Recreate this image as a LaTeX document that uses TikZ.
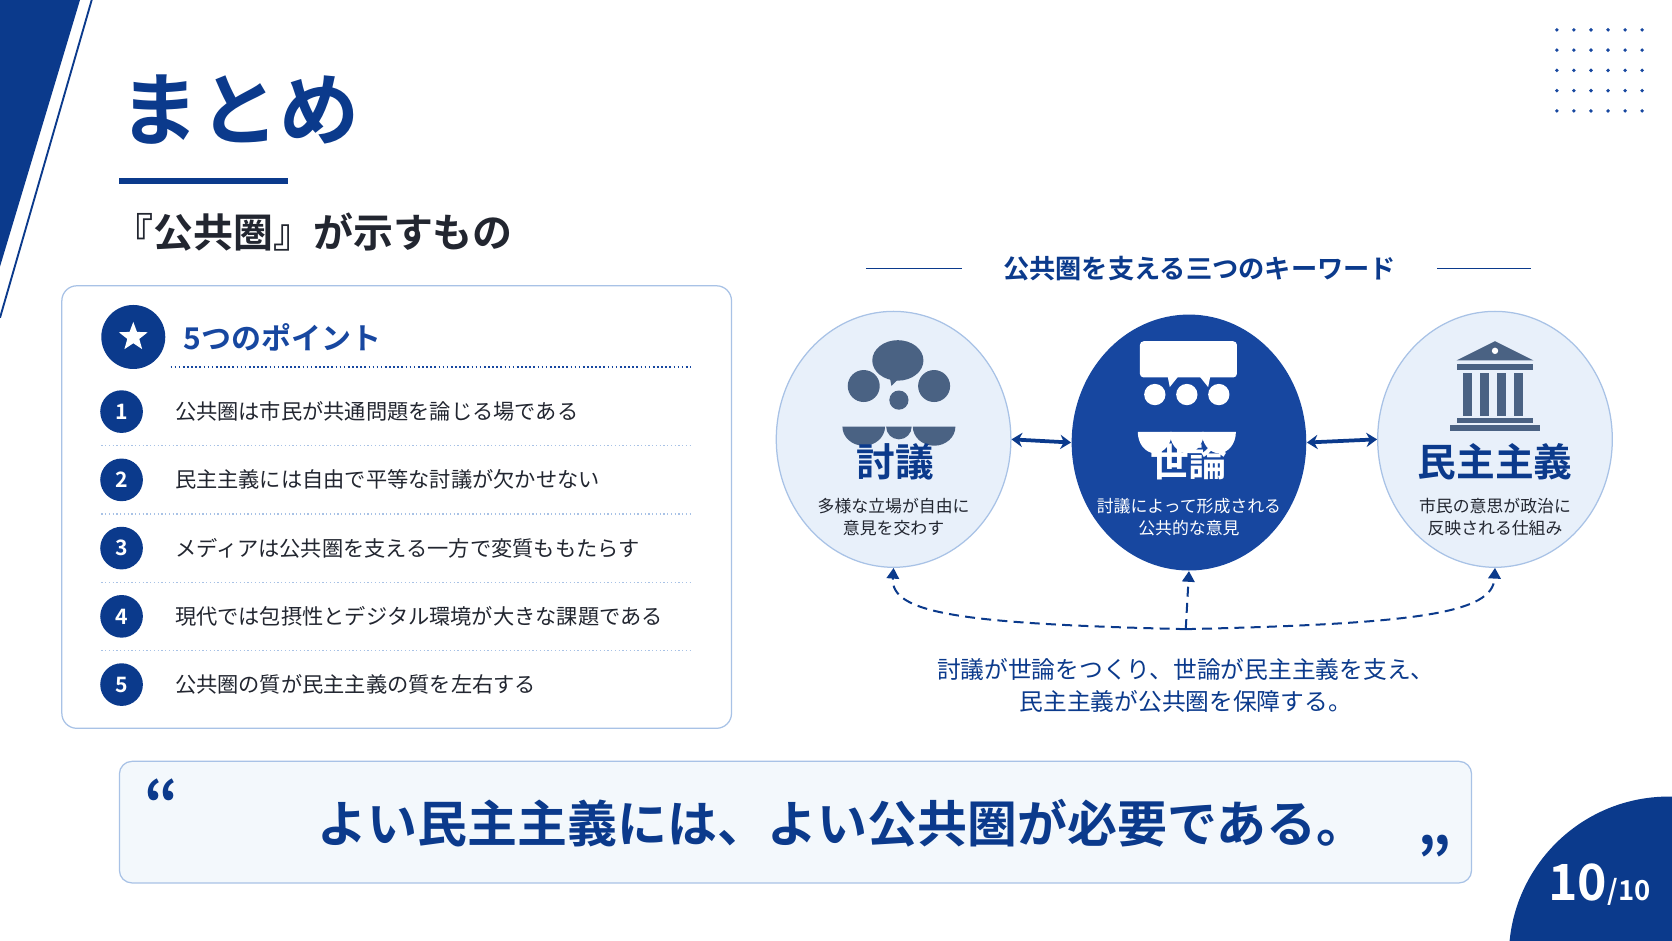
\documentclass[tikz,border=0pt]{standalone}
\usepackage{fontspec}
\setmainfont{Noto Sans CJK JP}[BoldFont={Noto Sans CJK JP Bold}]
\usetikzlibrary{positioning, calc, arrows.meta, shapes}
\definecolor{navy}{HTML}{0B3A8C}
\definecolor{mainblue}{HTML}{1747A0}
\definecolor{ink}{HTML}{222630}
\definecolor{pale}{HTML}{E8F0FA}
\definecolor{rim}{HTML}{A8C2E6}
\definecolor{icon}{HTML}{4A6283}
\newcommand{\fs}[1]{\fontsize{#1pt}{\dimexpr #1pt*135/100\relax}\selectfont}

\begin{document}
\begin{tikzpicture}[x=0.03cm, y=-0.03cm]

\tikzset{
point/.style = {circle, fill = navy, text = white, minimum size = 1.2cm, inner sep = 0pt,
	font = \bfseries\fs{17}},
item/.style = {anchor = west, text = ink, font = \fs{17}},
key/.style = {ellipse, minimum width = 6.6cm, minimum height = 7.2cm, draw = rim,
	line width = 1pt, fill = pale},
keyword/.style = {font = \bfseries\fs{31}},
keynote/.style = {align = center, font = \fs{13.5}},
link/.style = {{Stealth[length = 3mm, width = 4mm]}-{Stealth[length = 3mm, width = 4mm]},
	line width = 3pt, navy},
back/.style = {-{Triangle[length = 3mm, width = 3.5mm]}, dashed, dash pattern = on 8pt off 5pt,
	line width = 1.6pt, navy},
}

\useasboundingbox (0,0) rectangle (1568,882);
\fill [white] (0,0) rectangle (1568,882);

%% Decorations
\fill [navy] (0,0) -- (75,0) -- (0,250) -- cycle;
\draw [navy, line width = 1.5pt] (86,0) -- (0,298);
\foreach \i in {0,...,5}
	\foreach \j in {0,...,4}
		\fill [mainblue] (1460+16*\i, 28+19*\j) circle (1.8);
\fill [navy] (1565,897) circle (150);
\node at (1500,830) [text = white, font = \bfseries\fs{40}] (page) {10{\fs{22}/10}};

%% Heading
\node at (108,103) [anchor = west, text = navy, font = \bfseries\fs{64}] (title) {まとめ};
\fill [navy] (112,167) rectangle (270,173);
\node at (102,218) [anchor = west, text = ink, font = \bfseries\fs{32}] (subtitle) {『公共圏』が示すもの};

%% Five points
\draw [rim, fill = white, rounded corners = 12pt, line width = 1pt] (58,268) rectangle (686,683);
\node at (125,316) [circle, fill = navy, minimum size = 1.8cm] (star) {};
\node at (125,316) [star, star points = 5, star point ratio = 2.4, fill = white, inner sep = 0pt,
	minimum size = 0.85cm] {};
\node at (168,316) [anchor = west, text = mainblue, font = \bfseries\fs{24}] (points) {5つのポイント};
\draw [mainblue, dotted, line width = 1.3pt] (160,344) -- (648,344);
\foreach \n/\t [count = \k] in {
	1/公共圏は市民が共通問題を論じる場である,
	2/民主主義には自由で平等な討議が欠かせない,
	3/メディアは公共圏を支える一方で変質ももたらす,
	4/現代では包摂性とデジタル環境が大きな課題である,
	5/公共圏の質が民主主義の質を左右する} {
	\node at (114,322+64*\k) [point] (p\n) {\n};
	\node at (160,322+64*\k) [item] (t\n) {\t};
}
\foreach \y in {418,482,546,610}
	\draw [rim, dotted, line width = 1pt] (95,\y) -- (650,\y);

%% Keywords
\node at (1125,252) [text = navy, font = \bfseries\fs{21}] (keys) {公共圏を支える三つのキーワード};
\draw [navy, line width = 1pt] (812,252) -- (902,252);
\draw [navy, line width = 1pt] (1348,252) -- (1436,252);

\node at (838,412) [key] (debate) {};
\node at (1115,415) [key, draw = none, fill = mainblue] (opinion) {};
\node at (1402,412) [key] (democracy) {};

% Icons
\fill [icon] (842,338) ellipse (24 and 19);
\fill [icon] (834,352) -- (846,352) -- (836,362) -- cycle;
\foreach \x/\r in {810/15, 876/15, 843/9} {
	\fill [icon] (\x,{362+(15-\r)*2.2}) circle (\r);
}
\fill [icon] (790,400) arc (180:0:20 and 18) -- cycle;
\fill [icon] (856,400) arc (180:0:20 and 18) -- cycle;
\fill [icon] (831,400) arc (180:0:12 and 12) -- cycle;

\fill [white, rounded corners = 3pt] (1069,320) rectangle (1160,354);
\fill [white] (1095,353) -- (1105,353) -- (1097,363) -- cycle;
\fill [white] (1125,353) -- (1135,353) -- (1133,363) -- cycle;
\foreach \x in {1083,1113,1143} {
	\fill [white] (\x,370) circle (10);
	\fill [white] (\x-16,405) arc (180:0:16 and 20) -- cycle;
}

\fill [icon] (1366,338) -- (1402,320) -- (1438,338) -- cycle;
\fill [white] (1402,329) circle (3);
\fill [icon] (1366,341) rectangle (1438,347);
\foreach \x in {1372,1388,1404,1420}
	\fill [icon] (\x,350) rectangle ++(8,40);
\fill [icon] (1366,392) rectangle (1438,397);
\fill [icon] (1360,399) rectangle (1444,404);

% Texts
\node at (840,433) [keyword, text = navy] {討議};
\node at (838,485) [keynote, text = ink] {多様な立場が自由に\\意見を交わす};
\node at (1115,433) [keyword, text = white] {世論};
\node at (1115,485) [keynote, text = white] {討議によって形成される\\公共的な意見};
\node at (1402,433) [keyword, text = navy] {民主主義};
\node at (1402,485) [keynote, text = ink] {市民の意思が政治に\\反映される仕組み};

% Connectors
\draw [link] (debate.east) -- (opinion.west);
\draw [link] (opinion.east) -- (democracy.west);
\coordinate (low) at (1112,590);
\draw [back] (low) .. controls (900,585) and (835,575) .. (debate.south);
\draw [back] (low) .. controls (1330,585) and (1400,575) .. (democracy.south);
\draw [back] (low) -- (opinion.south);

\node at (1112,643) [align = center, text = navy, font = \fs{19}] (cycle)
	{討議が世論をつくり、世論が民主主義を支え、\\民主主義が公共圏を保障する。};

%% Quote
\draw [rim, fill = pale!50, rounded corners = 10pt, line width = 1pt] (112,714) rectangle (1380,828);
\node at (152,752) [text = navy, font = \bfseries\fs{48}] (open) {“};
\node at (1345,805) [text = navy, font = \bfseries\fs{48}] (close) {”};
\node at (790,772) [text = navy, font = \bfseries\fs{40}] (quote) {よい民主主義には、よい公共圏が必要である。};

\end{tikzpicture}
\end{document}
